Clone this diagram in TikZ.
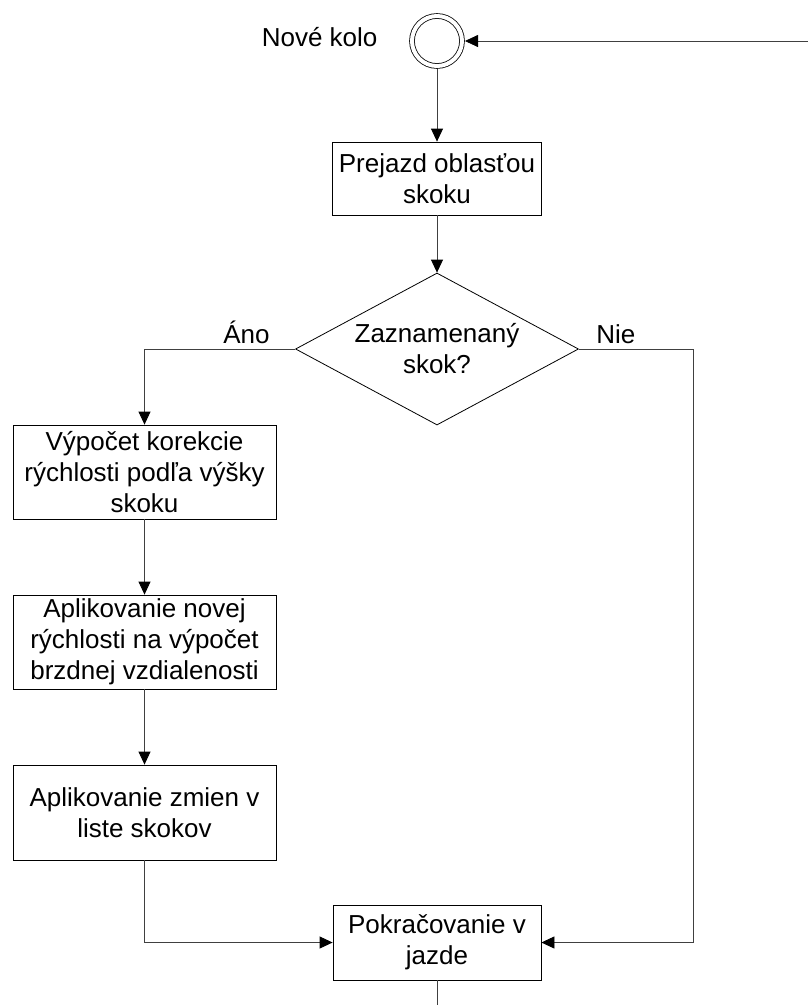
\documentclass[tikz,border=0pt]{standalone}
\usepackage{fontspec}
\setmainfont{Liberation Sans}
\usetikzlibrary{shapes.geometric,arrows.meta}

\begin{document}
\begin{tikzpicture}[x=1pt, y=-1pt,
        every node/.style={font=\fontsize{26}{31}\selectfont},
        krok/.style={draw, line width=0.8pt, rectangle, align=center, inner sep=0pt},
        sipka/.style={draw=black!75, line width=0.8pt, -{Triangle[length=13pt,width=12pt,black]}},
        ciara/.style={draw=black!75, line width=0.8pt}]
        \useasboundingbox (0,0) rectangle (808,1005);
        \pgfmathsetmacro{\stred}{437}
        \pgfmathsetmacro{\vlavo}{144.5}
        \node[draw, circle, double, double distance=4pt, line width=0.8pt,
            minimum size=50pt, inner sep=0pt, outer sep=3pt] (start) at (\stred, 41) {};
        \node[anchor=base east, xshift=-28pt, yshift=-5pt] (startText) at (start.west) {Nové kolo};
        \node[krok, minimum width=209pt, minimum height=73pt] (prejazd) at (\stred, 178.5)
            {Prejazd oblasťou\\skoku};
        \node[draw, line width=0.8pt, diamond, aspect=1.86, inner sep=0pt,
            minimum width=283pt, minimum height=152pt, align=center] (skok) at (\stred, 349)
            {Zaznamenaný\\skok?};
        \node[anchor=base east, xshift=-22pt, yshift=6pt] (ano) at (skok.west) {Áno};
        \node[anchor=base west, xshift=14pt, yshift=6pt] (nie) at (skok.east) {Nie};
        \node[krok, minimum width=263pt, minimum height=94pt] (korekcia) at (\vlavo, 472)
            {Výpočet korekcie\\rýchlosti podľa výšky\\skoku};
        \node[krok, minimum width=263pt, minimum height=94pt] (aplikacia) at (\vlavo, 642)
            {Aplikovanie novej\\rýchlosti na výpočet\\brzdnej vzdialenosti};
        \node[krok, minimum width=263pt, minimum height=95pt] (zmeny) at (\vlavo, 812.5)
            {Aplikovanie zmien v\\liste skokov};
        \node[krok, minimum width=208pt, minimum height=75pt] (pokracovanie) at (\stred, 942.5)
            {Pokračovanie v\\jazde};
        \coordinate (navrat) at (808, 41);
        \coordinate (nieRoh) at (693, 349);
        \coordinate (koniec) at (\stred, 1005);
        \draw[sipka] (navrat) -- (start.east);
        \draw[sipka] (start.south) -- (prejazd.north);
        \draw[sipka] (prejazd.south) -- (skok.north);
        \draw[sipka] (skok.west) -| (korekcia.north);
        \draw[sipka] (korekcia.south) -- (aplikacia.north);
        \draw[sipka] (aplikacia.south) -- (zmeny.north);
        \draw[sipka] (zmeny.south) |- (pokracovanie.west);
        \draw[sipka] (skok.east) -- (nieRoh) |- (pokracovanie.east);
        \draw[ciara] (pokracovanie.south) -- (koniec);
    \end{tikzpicture}
\end{document}
